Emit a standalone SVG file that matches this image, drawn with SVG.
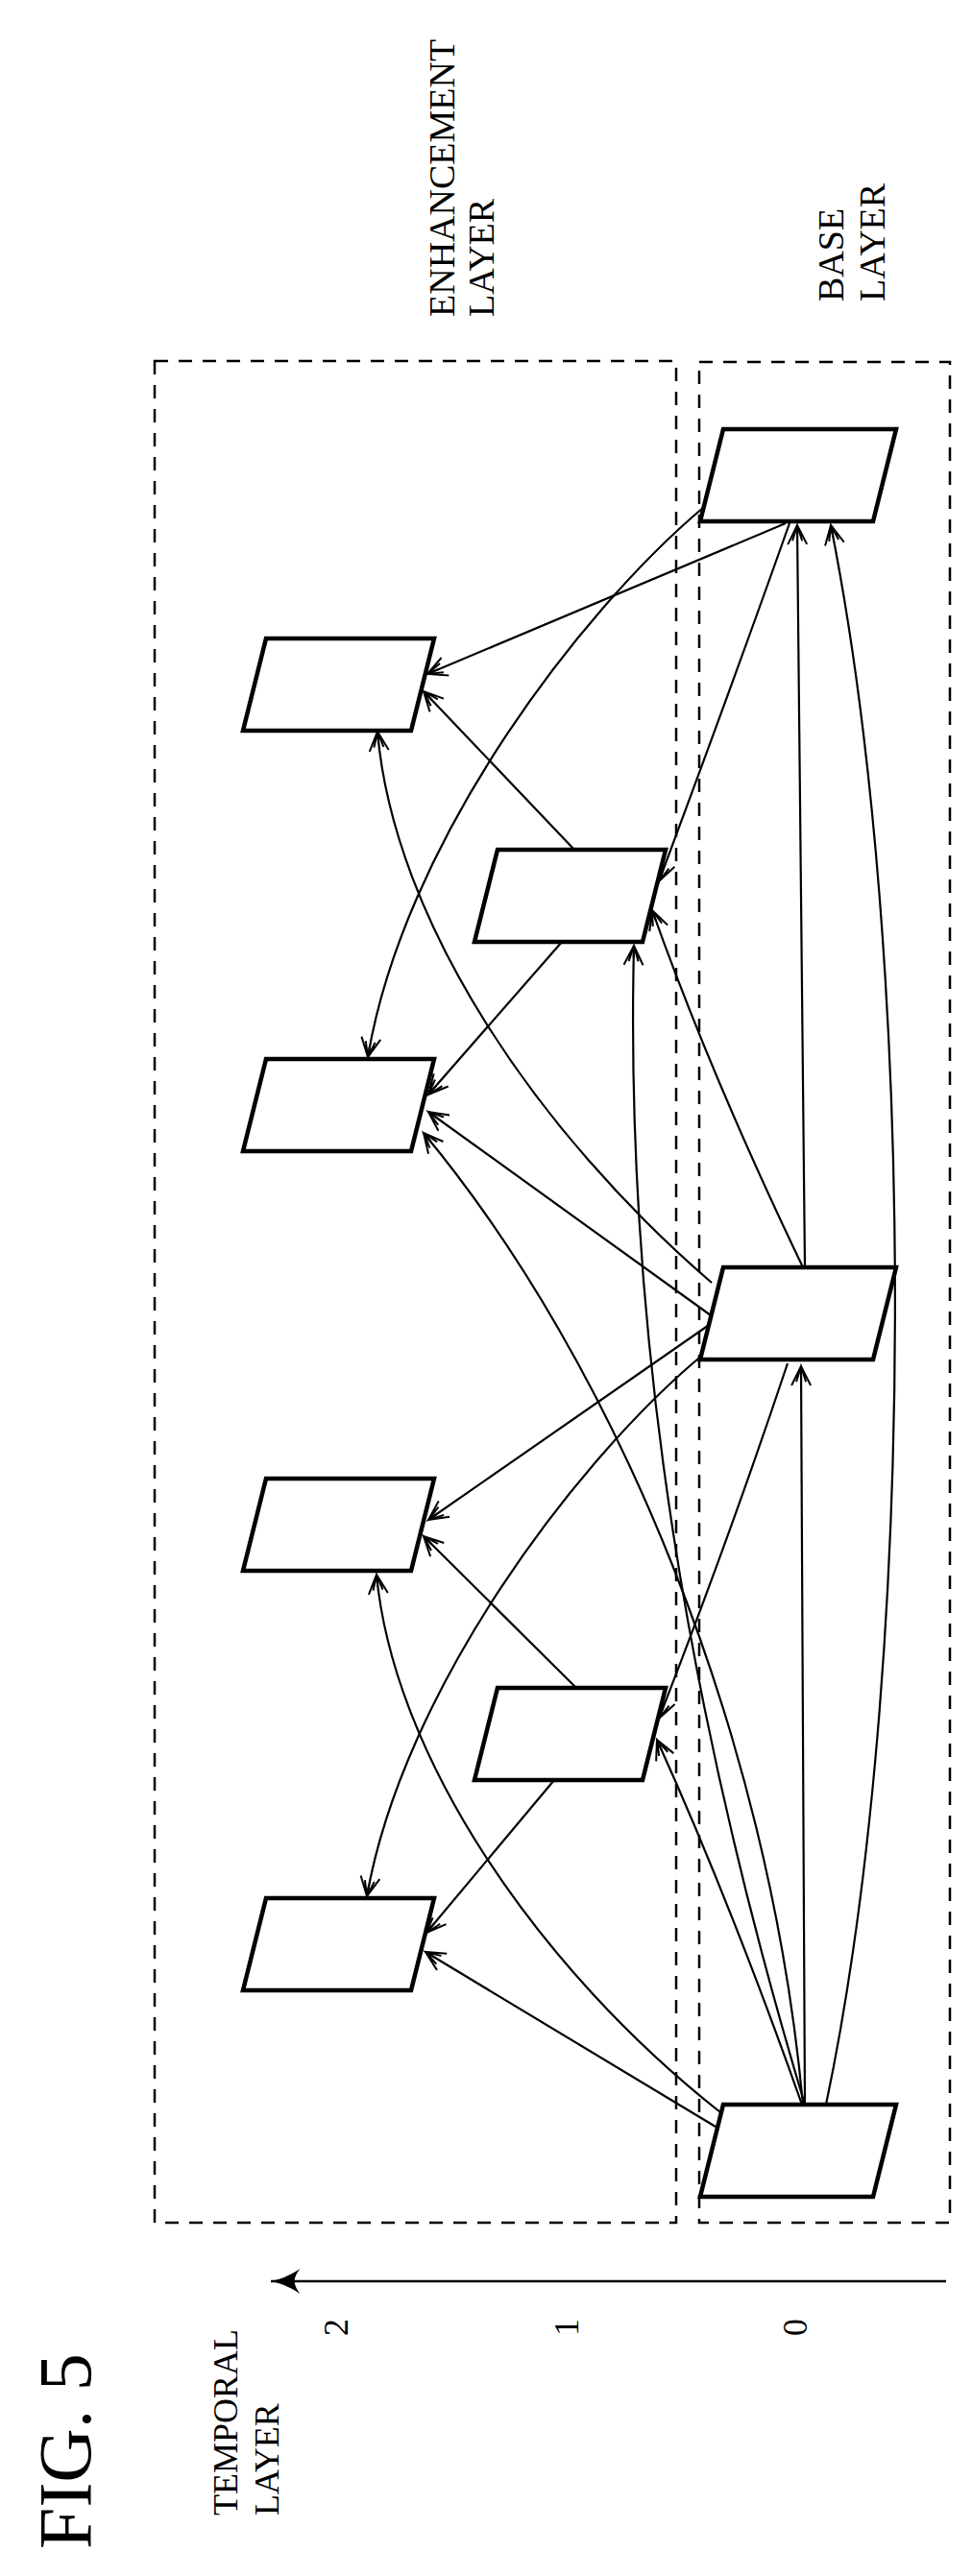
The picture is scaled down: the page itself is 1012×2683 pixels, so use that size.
<svg xmlns="http://www.w3.org/2000/svg" width="1012" height="2683" viewBox="0 0 1012 2683">
<style>
.box{fill:none;stroke:#000;stroke-width:2.5;stroke-dasharray:14 11}
.node{fill:#fff;stroke:#000;stroke-width:4.5;stroke-linejoin:miter}
.c{fill:none;stroke:#000;stroke-width:2.2;marker-end:url(#ah)}
.t{font-family:"Liberation Serif","DejaVu Serif",serif;fill:#000}
</style>
<defs>
<marker id="ah" markerUnits="userSpaceOnUse" markerWidth="30" markerHeight="30" viewBox="-20 -10 24 20" refX="0" refY="0" orient="auto">
<path d="M-16,-8 L0,0 L-16,8 M-13,-4 L0,0 L-13,4 M-10,0 L0,0" fill="none" stroke="#000" stroke-width="1.6"/>
</marker>
<marker id="ax" markerUnits="userSpaceOnUse" markerWidth="40" markerHeight="40" viewBox="-30 -15 34 30" refX="0" refY="0" orient="auto">
<path d="M-26,-11 Q-12,-2 0,0 Q-12,2 -26,11 Q-16,0 -26,-11 z" fill="#000"/>
</marker>
</defs>
<g id="frames">
<rect id="enhancement-box" class="box" x="161" y="376" width="543" height="1939"/>
<rect id="base-box" class="box" x="728" y="377" width="261" height="1938"/>
</g>
<g id="connectors">
<path class="c" d="M818,545 L445,702"/>
<path class="c" d="M598,885 L441,720"/>
<path class="c" d="M822,545 Q760,720 686,918"/>
<path class="c" d="M836,1320 Q740,1120 679,948"/>
<path class="c" d="M733,528 C600,640 420,880 383,1101"/>
<path class="c" d="M741,1336 C560,1180 410,960 393,762"/>
<path class="c" d="M838,1320 L830,547"/>
<path class="c" d="M860,2192 C955,1740 955,1000 865,547"/>
<path class="c" d="M585,981 L446,1140"/>
<path class="c" d="M740,1370 L446,1158"/>
<path class="c" d="M836,2192 C800,1800 640,1420 441,1180"/>
<path class="c" d="M838,2192 C720,1800 650,1400 660,985"/>
<path class="c" d="M741,1378 L446,1583"/>
<path class="c" d="M600,1758 L441,1600"/>
<path class="c" d="M820,1420 Q760,1600 686,1790"/>
<path class="c" d="M835,2192 Q760,1980 684,1812"/>
<path class="c" d="M733,1410 C600,1520 420,1760 382,1975"/>
<path class="c" d="M750,2200 C560,2050 410,1830 392,1640"/>
<path class="c" d="M577,1854 L444,2013"/>
<path class="c" d="M745,2215 L443,2033"/>
<path class="c" d="M838,2192 L834,1423"/>
</g>
<g id="B0"><polygon class="node" points="753,447 933,447 909,543 729,543"/></g>
<g id="B1"><polygon class="node" points="753,1320 933,1320 909,1416 729,1416"/></g>
<g id="B2"><polygon class="node" points="753,2192 933,2192 909,2288 729,2288"/></g>
<g id="E1a"><polygon class="node" points="518,885 693,885 669,981 494,981"/></g>
<g id="E1b"><polygon class="node" points="518,1758 693,1758 669,1854 494,1854"/></g>
<g id="E2a"><polygon class="node" points="277,665 452,665 428,761 253,761"/></g>
<g id="E2b"><polygon class="node" points="277,1103 452,1103 428,1199 253,1199"/></g>
<g id="E2c"><polygon class="node" points="277,1540 452,1540 428,1636 253,1636"/></g>
<g id="E2d"><polygon class="node" points="277,1977 452,1977 428,2073 253,2073"/></g>
<g id="axis">
<path d="M985,2376 L282,2376" fill="none" stroke="#000" stroke-width="2.5" marker-end="url(#ax)"/>
</g>
<g id="labels" class="t">
<text class="t" font-size="38" transform="translate(473,330) rotate(-90)">ENHANCEMENT</text>
<text class="t" font-size="38" transform="translate(514,330) rotate(-90)">LAYER</text>
<text class="t" font-size="38" transform="translate(878,314) rotate(-90)">BASE</text>
<text class="t" font-size="38" transform="translate(921,314) rotate(-90)">LAYER</text>
<text class="t" font-size="36" transform="translate(247,2620) rotate(-90)">TEMPORAL</text>
<text class="t" font-size="36" transform="translate(290,2620) rotate(-90)">LAYER</text>
<text class="t" font-size="36" text-anchor="middle" transform="translate(362,2424) rotate(-90)">2</text>
<text class="t" font-size="36" text-anchor="middle" transform="translate(602,2424) rotate(-90)">1</text>
<text class="t" font-size="36" text-anchor="middle" transform="translate(840,2424) rotate(-90)">0</text>
<text class="t" font-size="78" transform="translate(94,2655) rotate(-90)">FIG. 5</text>
</g>
</svg>
